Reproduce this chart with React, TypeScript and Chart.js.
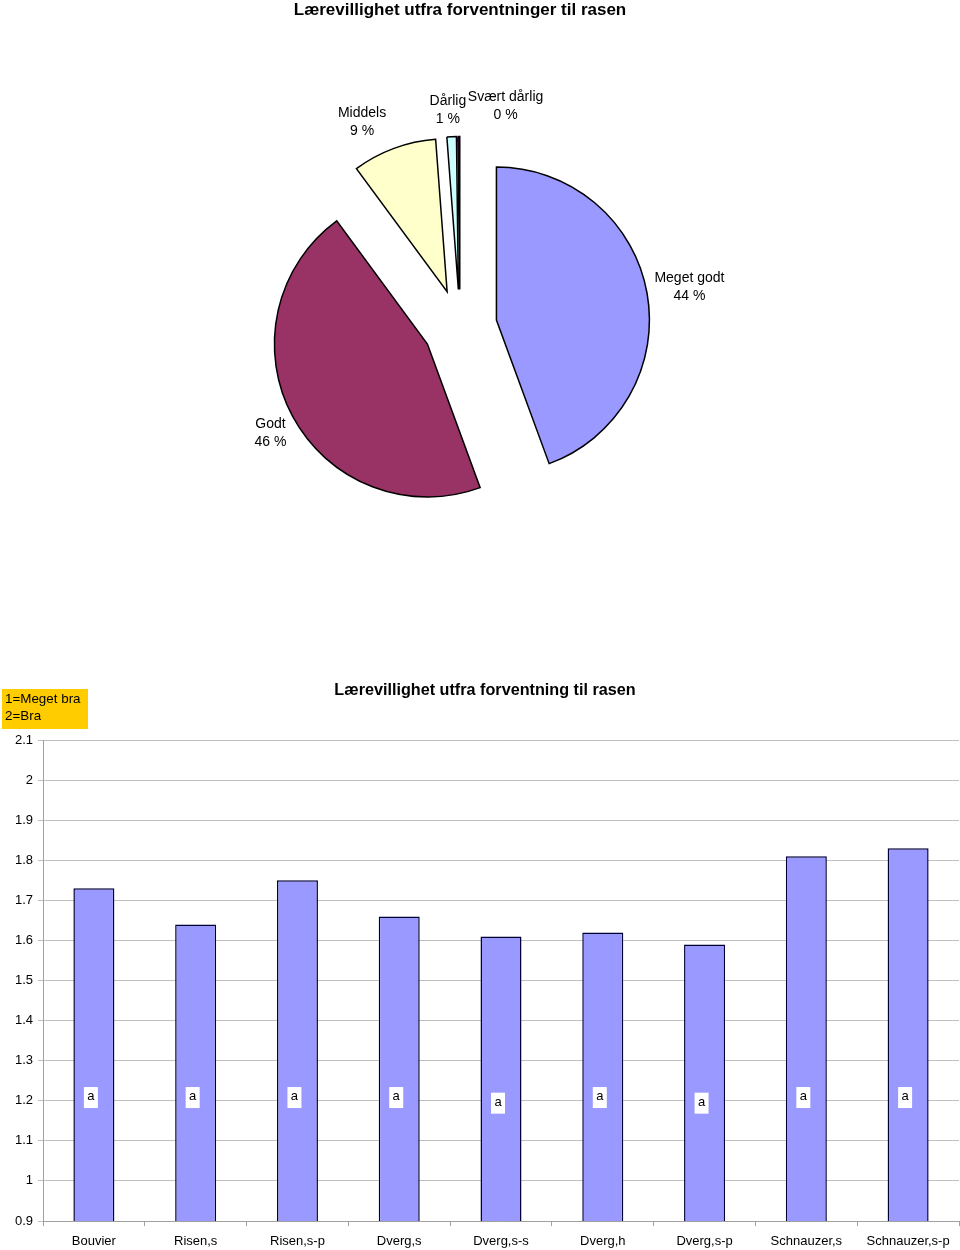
import React, { useEffect, useRef } from "react";
import { Chart, registerables } from "chart.js";

Chart.register(...registerables);

const FONT = '"Liberation Sans", Arial, sans-serif';

// ---------- Pie data ----------
const pieTitle = "Lærevillighet utfra forventninger til rasen";
const pieLabels = ["Meget godt", "Godt", "Middels", "Dårlig", "Svært dårlig"];
const pieValues = [44.4, 45.5, 8.9, 1.0, 0.2];
const pieColors = ["#9999FF", "#993366", "#FFFFCC", "#CCFFFF", "#660066"];

// ---------- Bar data ----------
const barTitle = "Lærevillighet utfra forventning til rasen";
const barCategories = [
  "Bouvier",
  "Risen,s",
  "Risen,s-p",
  "Dverg,s",
  "Dverg,s-s",
  "Dverg,h",
  "Dverg,s-p",
  "Schnauzer,s",
  "Schnauzer,s-p",
];
const barValues = [1.73, 1.64, 1.75, 1.66, 1.61, 1.62, 1.59, 1.81, 1.83];
const barLetters = ["a", "a", "a", "a", "a", "a", "a", "a", "a"];
const letterLevels = [1.208, 1.208, 1.208, 1.208, 1.194, 1.208, 1.194, 1.208, 1.208];
const legendLines = ["1=Meget bra", "2=Bra"];
const yMin = 0.9;
const yMax = 2.1;
const yStep = 0.1;

// ---------- layout constants ----------
const EXPLODE = 37;
const PIE_RADIUS = 153;
const LABEL_GAP = 40;
const labelShift: [number, number][] = [
  [3, 1],
  [13, -2],
  [-18, 11],
  [-2, 13],
  [47, 10],
];

const explodePlugin = {
  id: "explode",
  beforeDatasetsDraw(chart: any) {
    const a = chart.chartArea;
    const cx = (a.left + a.right) / 2;
    const cy = (a.top + a.bottom) / 2;
    chart.getDatasetMeta(0).data.forEach((arc: any) => {
      const mid = (arc.startAngle + arc.endAngle) / 2;
      arc.x = cx + EXPLODE * Math.cos(mid);
      arc.y = cy + EXPLODE * Math.sin(mid);
    });
  },
};

const pieLabelPlugin = {
  id: "pieLabels",
  afterDatasetsDraw(chart: any) {
    const ctx = chart.ctx;
    ctx.save();
    ctx.font = `14px ${FONT}`;
    ctx.fillStyle = "#000";
    ctx.textAlign = "center";
    ctx.textBaseline = "middle";
    chart.getDatasetMeta(0).data.forEach((arc: any, i: number) => {
      const mid = (arc.startAngle + arc.endAngle) / 2;
      const r = arc.outerRadius + LABEL_GAP;
      const x = arc.x + r * Math.cos(mid) + labelShift[i][0];
      const y = arc.y + r * Math.sin(mid) + labelShift[i][1];
      ctx.fillText(pieLabels[i], x, y - 9);
      ctx.fillText(`${Math.round(pieValues[i])} %`, x, y + 9);
    });
    ctx.restore();
  },
};

const legendBoxPlugin = {
  id: "legendBox",
  afterDraw(chart: any) {
    const ctx = chart.ctx;
    ctx.save();
    ctx.fillStyle = "#FFCC00";
    ctx.fillRect(2, 29, 86, 40);
    ctx.fillStyle = "#000";
    ctx.font = `13.4px ${FONT}`;
    ctx.textAlign = "left";
    ctx.textBaseline = "middle";
    legendLines.forEach((t, i) => ctx.fillText(t, 5, 39 + i * 17));
    ctx.restore();
  },
};

const letterPlugin = {
  id: "letters",
  afterDatasetsDraw(chart: any) {
    const ctx = chart.ctx;
    const yScale = chart.scales.y;
    ctx.save();
    ctx.font = `13px ${FONT}`;
    ctx.textAlign = "center";
    ctx.textBaseline = "middle";
    chart.getDatasetMeta(0).data.forEach((bar: any, i: number) => {
      const x = bar.x - 3;
      const y = yScale.getPixelForValue(letterLevels[i]);
      ctx.fillStyle = "#FFFFFF";
      ctx.fillRect(x - 7, y - 10.5, 14, 21);
      ctx.fillStyle = "#000";
      ctx.fillText(barLetters[i], x, y - 1);
    });
    ctx.restore();
  },
};

export default function App() {
  const pieRef = useRef<HTMLCanvasElement | null>(null);
  const barRef = useRef<HTMLCanvasElement | null>(null);

  useEffect(() => {
    document.body.style.margin = "0";
    Chart.defaults.font.family = FONT;
    Chart.defaults.color = "#000";

    const pie = new Chart(pieRef.current as HTMLCanvasElement, {
      type: "pie",
      data: {
        labels: pieLabels,
        datasets: [
          {
            data: pieValues,
            backgroundColor: pieColors,
            borderColor: "#000000",
            borderWidth: 1.5,
            borderJoinStyle: "miter",
            radius: PIE_RADIUS,
          } as any,
        ],
      },
      options: {
        responsive: false,
        animation: false,
        events: [],
        radius: PIE_RADIUS,
        layout: { padding: { left: 0, right: 40, top: 0, bottom: 37.4 } },
        plugins: {
          legend: { display: false },
          tooltip: { enabled: false },
          title: {
            display: true,
            text: pieTitle,
            color: "#000",
            font: { size: 17, weight: "bold", family: FONT },
            padding: { top: 0, bottom: 10 },
          },
        },
      } as any,
      plugins: [explodePlugin, pieLabelPlugin],
    });

    const bar = new Chart(barRef.current as HTMLCanvasElement, {
      type: "bar",
      data: {
        labels: barCategories,
        datasets: [
          {
            data: barValues,
            backgroundColor: "#9999FF",
            borderColor: "#000033",
            borderWidth: 1.5,
            barPercentage: 0.403,
            categoryPercentage: 1,
          },
        ],
      },
      options: {
        responsive: false,
        animation: false,
        events: [],
        layout: { padding: { left: 11, right: 1, top: 0, bottom: 0 } },
        plugins: {
          legend: { display: false },
          tooltip: { enabled: false },
          title: {
            display: true,
            text: barTitle,
            color: "#000",
            font: { size: 16.2, weight: "bold", family: FONT },
            padding: { top: 21.3, bottom: 39.3 },
          },
        },
        scales: {
          x: {
            grid: {
              drawOnChartArea: false,
              drawTicks: true,
              tickLength: 5,
              color: "#a0a0a0",
              offset: true,
            },
            border: { color: "#a0a0a0" },
            ticks: {
              color: "#000",
              font: { size: 13, family: FONT },
              padding: 7.2,
              maxRotation: 0,
              autoSkip: false,
            },
            afterFit(scale: any) {
              scale.height = 29;
            },
          },
          y: {
            min: yMin,
            max: yMax,
            grid: { color: "#c0c0c0", tickLength: 5, lineWidth: 1 },
            border: { color: "#a0a0a0" },
            ticks: {
              stepSize: yStep,
              padding: 5,
              color: "#000",
              font: { size: 13, family: FONT },
              callback: (v: any) => String(Math.round(Number(v) * 10) / 10),
            },
            afterFit(scale: any) {
              scale.width = 32;
            },
          },
        },
      } as any,
      plugins: [letterPlugin, legendBoxPlugin],
    });

    return () => {
      pie.destroy();
      bar.destroy();
    };
  }, []);

  return (
    <div style={{ position: "relative", width: 960, height: 1250, background: "#fff" }}>
      <canvas
        ref={pieRef}
        width={960}
        height={660}
        style={{ position: "absolute", left: 0, top: 0, width: 960, height: 660, display: "block" }}
      />
      <canvas
        ref={barRef}
        width={960}
        height={590}
        style={{ position: "absolute", left: 0, top: 660, width: 960, height: 590, display: "block" }}
      />
    </div>
  );
}
